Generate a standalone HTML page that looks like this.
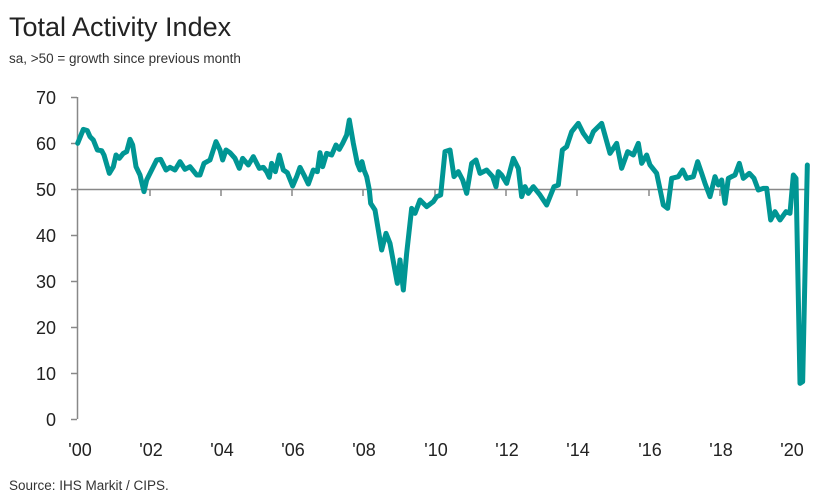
<!DOCTYPE html>
<html><head><style>
body{margin:0;background:#fff;}
svg{display:block;font-family:"Liberation Sans",sans-serif;}
</style></head><body>
<svg width="822" height="499" viewBox="0 0 822 499">
<text x="9" y="36" font-size="27" fill="#222">Total Activity Index</text>
<text x="9" y="63" font-size="13.5" fill="#333">sa, &gt;50 = growth since previous month</text>
<line x1="77.5" y1="97" x2="77.5" y2="419" stroke="#888" stroke-width="1.5"/>
<g stroke="#888" stroke-width="1.5">
<line x1="71" y1="97.5" x2="77" y2="97.5"/><line x1="71" y1="143.5" x2="77" y2="143.5"/><line x1="71" y1="189.5" x2="77" y2="189.5"/><line x1="71" y1="235.5" x2="77" y2="235.5"/><line x1="71" y1="281.5" x2="77" y2="281.5"/><line x1="71" y1="327.5" x2="77" y2="327.5"/><line x1="71" y1="373.5" x2="77" y2="373.5"/><line x1="71" y1="419.5" x2="77" y2="419.5"/>
<line x1="77" y1="189.5" x2="806" y2="189.5"/>
<line x1="150" y1="189" x2="150" y2="196"/><line x1="221" y1="189" x2="221" y2="196"/><line x1="292" y1="189" x2="292" y2="196"/><line x1="363" y1="189" x2="363" y2="196"/><line x1="435" y1="189" x2="435" y2="196"/><line x1="506" y1="189" x2="506" y2="196"/><line x1="577" y1="189" x2="577" y2="196"/><line x1="649" y1="189" x2="649" y2="196"/><line x1="720" y1="189" x2="720" y2="196"/><line x1="791" y1="189" x2="791" y2="196"/>
</g>
<g font-size="18" fill="#222" text-anchor="end">
<text x="56" y="104">70</text><text x="56" y="150">60</text><text x="56" y="196">50</text><text x="56" y="242">40</text><text x="56" y="288">30</text><text x="56" y="334">20</text><text x="56" y="380">10</text><text x="56" y="426">0</text>
</g>
<g font-size="18" fill="#222" text-anchor="middle">
<text x="80" y="456">'00</text><text x="151" y="456">'02</text><text x="222" y="456">'04</text><text x="293" y="456">'06</text><text x="364" y="456">'08</text><text x="436" y="456">'10</text><text x="507" y="456">'12</text><text x="578" y="456">'14</text><text x="650" y="456">'16</text><text x="721" y="456">'18</text><text x="792" y="456">'20</text>
</g>
<g fill="none" stroke="#009694" stroke-width="15" stroke-linejoin="round" stroke-linecap="round">
<polyline transform="translate(0,80) scale(0.33333)" points="233,190 250,148 262,152 270,170 280,180 292,210 305,212 312,225 328,280 340,260 348,225 358,235 370,220 380,215 390,178 398,195 408,260 420,285 432,335 440,300 455,270 470,240 482,238 498,270 510,262 525,270 540,245 555,268 570,260 590,285 600,285 612,250 630,240 648,185 660,210 668,240 678,210 690,218 705,235 718,265 728,235 745,255 760,230 778,265 790,262 800,275 808,292 815,250 826,275 838,225 850,270 862,278 878,318 890,290 900,262 912,285 925,312 940,270 952,275 960,218 968,260 980,220 995,225 1008,195 1018,208 1028,190 1040,165 1048,120 1060,190 1072,250 1080,270 1086,245 1092,270 1100,290 1108,330 1112,370 1125,390 1145,510 1158,460 1170,490 1192,610 1200,540"/>
<polyline transform="translate(400,80) scale(0.33333)" points="0,540 10,630 20,520 35,385 45,400 60,360 80,380 100,365 110,350 122,345 135,215 150,210 162,290 175,275 188,300 200,340 215,250 228,240 240,280 260,270 278,290 288,320 295,275 305,285 320,310 340,235 355,265 365,350 375,320 385,340 400,320 420,345 440,375 462,320 475,315 487,210 500,200 515,155 535,130 550,160 568,185 580,155 605,130 630,220 650,190 665,265 683,215 700,225 715,190 725,250 740,225 750,255 770,280 790,375 803,385 815,295 835,290 848,270 860,295 880,290 893,245 905,280 915,310 930,350 945,290 955,315 965,300 975,370 985,295 995,290 1005,285 1018,250 1030,295 1048,280 1062,295 1075,330 1090,325 1100,325 1112,420 1125,395 1140,420 1158,395 1170,400 1180,285 1188,295 1200,910 1208,905 1222,255"/>
</g>
<text x="9" y="490" font-size="13.5" fill="#333">Source: IHS Markit / CIPS.</text>
</svg>
</body></html>
